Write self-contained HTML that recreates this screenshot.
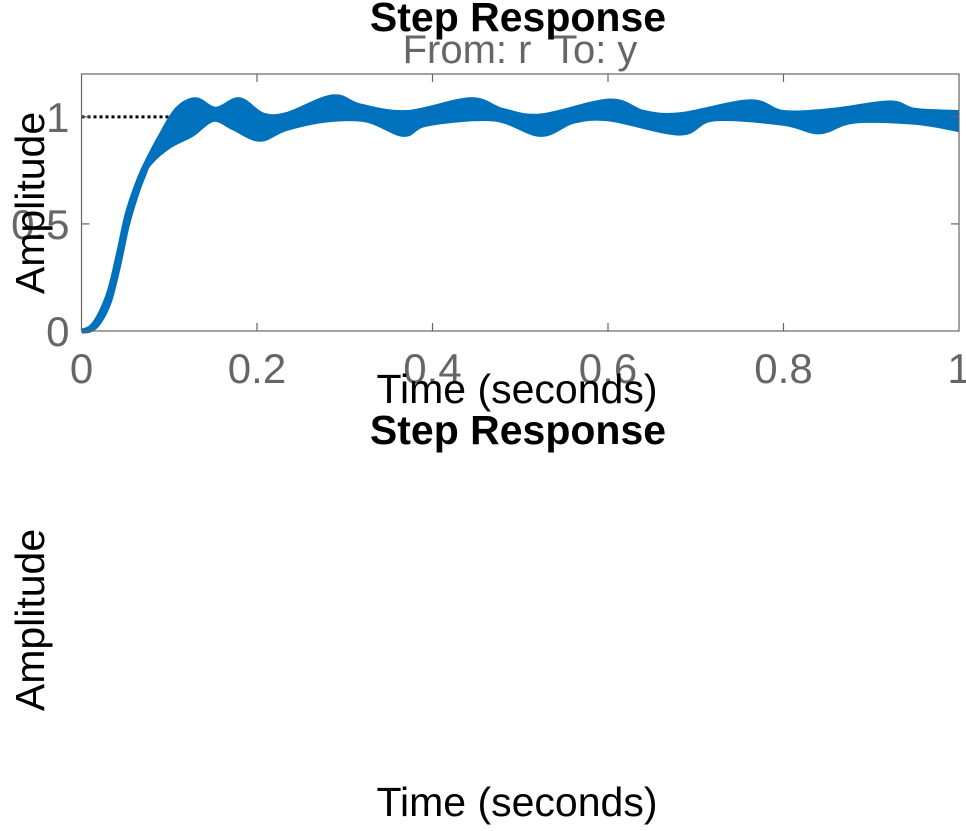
<!DOCTYPE html>
<html><head><meta charset="utf-8"><style>
html,body{margin:0;padding:0;background:#fff;}
svg{display:block;font-family:"Liberation Sans",Arial,sans-serif;}
</style></head><body>
<svg id="chart" width="966" height="831" viewBox="0 0 966 831">
<g id="plot"></g>
<text x="518" y="31" text-anchor="middle" font-size="41" font-weight="bold" fill="#000">Step Response</text>
<text x="520" y="63" text-anchor="middle" font-size="40" fill="#666" xml:space="preserve">From: r  To: y</text>
<text x="517" y="403" text-anchor="middle" font-size="41" fill="#000">Time (seconds)</text>
<text transform="translate(44,203) rotate(-90)" text-anchor="middle" font-size="41" fill="#000">Amplitude</text>
<text x="518" y="444" text-anchor="middle" font-size="41" font-weight="bold" fill="#000">Step Response</text>
<text transform="translate(44,620) rotate(-90)" text-anchor="middle" font-size="41" fill="#000">Amplitude</text>
<text x="517" y="816" text-anchor="middle" font-size="41" fill="#000">Time (seconds)</text>
</svg>
<script>
const xTicks=[0,0.2,0.4,0.6,0.8,1];
const xTickLabels=["0","0.2","0.4","0.6","0.8","1"];
const yTicks=[0,0.5,1];
const yTickLabels=["0","0.5","1"];
const upperT=[0,0.01,0.02,0.032,0.042,0.052,0.062,0.071,0.09,0.109,0.13,0.153,0.18,0.206,0.233,0.286,0.318,0.371,0.443,0.48,0.523,0.602,0.641,0.682,0.762,0.8,0.856,0.921,0.95,1];
const upperV=[0,0.015,0.07,0.19,0.36,0.545,0.67,0.76,0.91,1.035,1.08,1.035,1.08,1.01,1.01,1.093,1.05,1.02,1.08,1.03,1.004,1.074,1.02,1.01,1.07,1.02,1.03,1.065,1.03,1.02];
const lowerT=[0,0.01,0.02,0.032,0.042,0.052,0.062,0.071,0.078,0.1,0.126,0.15,0.173,0.203,0.233,0.279,0.325,0.367,0.394,0.47,0.523,0.561,0.602,0.682,0.72,0.8,0.841,0.88,0.95,1];
const lowerV=[0,0.005,0.04,0.14,0.3,0.49,0.63,0.73,0.785,0.863,0.918,0.988,0.949,0.895,0.945,0.985,0.985,0.918,0.967,0.99,0.918,0.98,0.99,0.924,0.99,0.97,0.93,0.98,0.975,0.94];
const finalValue=1, dottedEnd=0.1;
const L=81.5,R=959,T=74,B=331,yMin=0,yMax=1.2;
const xs=t=>L+(t-0)/(1-0)*(R-L);
const ys=v=>B-(v-yMin)/(yMax-yMin)*(B-T);
const NS="http://www.w3.org/2000/svg";
const g=document.getElementById('plot');
function mk(tag,attrs){const e=document.createElementNS(NS,tag);for(const k in attrs)e.setAttribute(k,attrs[k]);g.appendChild(e);return e;}
function smooth(ts,vs){let d='M'+xs(ts[0]).toFixed(1)+','+ys(vs[0]).toFixed(1);for(let i=0;i<ts.length-1;i++){const a=Math.max(0,i-1),b=Math.min(ts.length-1,i+2);const p0=[xs(ts[a]),ys(vs[a])],p1=[xs(ts[i]),ys(vs[i])],p2=[xs(ts[i+1]),ys(vs[i+1])],p3=[xs(ts[b]),ys(vs[b])];const c1=[p1[0]+(p2[0]-p0[0])/6,p1[1]+(p2[1]-p0[1])/6],c2=[p2[0]-(p3[0]-p1[0])/6,p2[1]-(p3[1]-p1[1])/6];d+='C'+c1.map(n=>n.toFixed(1))+' '+c2.map(n=>n.toFixed(1))+' '+p2.map(n=>n.toFixed(1));}return d;}
let e;
e=mk('line',{x1:xs(0),x2:xs(dottedEnd),y1:ys(finalValue),y2:ys(finalValue),stroke:'#000','stroke-width':3,'stroke-dasharray':'3,3'});


const up=smooth(upperT,upperV);
const lowRev=smooth(lowerT.slice().reverse(),lowerV.slice().reverse());
e=mk('path',{d:up+'L'+lowRev.slice(1),fill:'#0072bd',stroke:'none'});


e=mk('path',{d:up,fill:'none',stroke:'#0072bd','stroke-width':5});


e=mk('path',{d:smooth(lowerT,lowerV),fill:'none',stroke:'#0072bd','stroke-width':5});


e=mk('rect',{x:L,y:T,width:R-L,height:B-T,fill:'none',stroke:'#666','stroke-width':1.2});


xTicks.forEach((t,i)=>{
 if(t>0&&t<1){
 e=mk('line',{x1:xs(t),x2:xs(t),y1:B,y2:B-8,stroke:'#666','stroke-width':1.2});
 
 
 e=mk('line',{x1:xs(t),x2:xs(t),y1:T,y2:T+8,stroke:'#666','stroke-width':1.2});
 
 }
 e=mk('text',{x:xs(t),y:B+52,'text-anchor':'middle','font-size':42,fill:'#666'});
 e.textContent=xTickLabels[i];
 
 
});
yTicks.forEach((v,i)=>{
 if(v>0){
 e=mk('line',{x1:L,x2:L+8,y1:ys(v),y2:ys(v),stroke:'#666','stroke-width':1.2});
 
 
 e=mk('line',{x1:R,x2:R-8,y1:ys(v),y2:ys(v),stroke:'#666','stroke-width':1.2});
 
 }
 e=mk('text',{x:L-12,y:ys(v)+15,'text-anchor':'end','font-size':42,fill:'#666'});
 e.textContent=yTickLabels[i];
 
 
});
</script>
</body></html>
